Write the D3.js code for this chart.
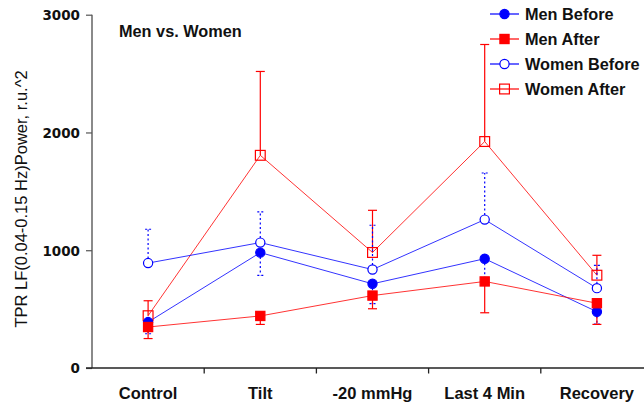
<!DOCTYPE html>
<html>
<head>
<meta charset="utf-8">
<script src="https://cdn.jsdelivr.net/npm/d3@7"></script>
<style>
  html, body { margin: 0; padding: 0; background: #fff; }
  svg { display: block; }
</style>
</head>
<body>
<svg id="chart" width="644" height="406"></svg>
<script>
// Phases of the protocol
const categories = ["Control", "Tilt", "-20 mmHg", "Last 4 Min", "Recovery"];

// Group means
const menBefore   = [390, 980, 715, 928, 478];
const menAfter    = [348, 442, 615, 735, 550];
const womenBefore = [891, 1065, 836, 1260, 678];
const womenAfter  = [444, 1806, 981, 1923, 788];

// Standard errors (men drawn downward, women upward)
const menBeforeErr   = [99, 193, 169, 170, 105];
const menAfterErr    = [98, 72, 112, 266, 180];
const womenBeforeErr = [287, 260, 376, 396, 194];
const womenAfterErr  = [127, 712, 358, 824, 169];

const yTicks = [0, 1000, 2000, 3000];

const series = [
  { name: "Women After",  values: womenAfter,  err: womenAfterErr,  dir: 1,  color: "#ff0000", shape: "square", filled: false, dash: null },
  { name: "Women Before", values: womenBefore, err: womenBeforeErr, dir: 1,  color: "#0000ff", shape: "circle", filled: false, dash: "2,2.5" },
  { name: "Men Before",   values: menBefore,   err: menBeforeErr,   dir: -1, color: "#0000ff", shape: "circle", filled: true,  dash: "2,2.5" },
  { name: "Men After",    values: menAfter,    err: menAfterErr,    dir: -1, color: "#ff0000", shape: "square", filled: true,  dash: null }
];
const legendOrder = ["Men Before", "Men After", "Women Before", "Women After"];

const svg = d3.select("#chart");
const plotLeft = 92, plotBottom = 368, plotTop = 14.7;

const x = d3.scaleBand().domain(categories).range([plotLeft, plotLeft + 5 * 112.2]).paddingInner(0).paddingOuter(0);
const y = d3.scaleLinear().domain([0, 3000]).range([plotBottom, plotTop]);
const cx = c => x(c) + x.bandwidth() / 2;

// Y axis
const yAxis = svg.append("g")
  .attr("transform", `translate(${plotLeft},0)`)
  .call(d3.axisLeft(y).tickValues(yTicks).tickSize(6).tickPadding(6).tickFormat(d3.format("d")));
yAxis.select(".domain").attr("stroke", "#8a8a8a").attr("stroke-width", 2).attr("d", `M0,${plotBottom}V${plotTop}`);
yAxis.selectAll(".tick line").attr("stroke", "#555").attr("stroke-width", 1.2);
yAxis.selectAll(".tick text")
  .attr("font-family", "DejaVu Sans, sans-serif").attr("font-weight", "bold").attr("font-size", 13.5)
  .attr("fill", "#111").attr("dy", "0.36em");

// X axis: category labels centred in bands, ticks at band boundaries
const xAxis = svg.append("g")
  .attr("transform", `translate(0,${plotBottom})`)
  .call(d3.axisBottom(x).tickSize(0).tickPadding(0));
xAxis.select(".domain").attr("stroke", "#222").attr("stroke-width", 1.5).attr("d", `M${plotLeft - 6},0H644`);
xAxis.selectAll(".tick text")
  .attr("font-family", "Liberation Sans, Arial, sans-serif").attr("font-weight", "bold").attr("font-size", 16.5)
  .attr("fill", "#111").attr("y", 31).attr("dy", 0);
xAxis.selectAll(".boundary").data(categories.slice(1)).enter().append("line")
  .attr("class", "boundary")
  .attr("x1", d => x(d)).attr("x2", d => x(d))
  .attr("y1", 0).attr("y2", 5.5)
  .attr("stroke", "#222").attr("stroke-width", 1.3);

// Y axis title
svg.append("text")
  .attr("transform", "translate(27,199) rotate(-90)")
  .attr("text-anchor", "middle")
  .attr("font-family", "Liberation Sans, Arial, sans-serif").attr("font-size", 16.5)
  .attr("fill", "#111")
  .text("TPR LF(0.04-0.15 Hz)Power, r.u.^2");

// Panel title
svg.append("text")
  .attr("x", 119).attr("y", 36.7)
  .attr("font-family", "Liberation Sans, Arial, sans-serif").attr("font-weight", "bold").attr("font-size", 16.3)
  .attr("fill", "#111")
  .text("Men vs. Women");

const plot = svg.append("g");

// Error bars
series.forEach(s => {
  const g = plot.append("g");
  categories.forEach((c, i) => {
    const xc = cx(c);
    const y0 = y(s.values[i]);
    const y1 = y(s.values[i] + s.dir * s.err[i]);
    const capW = s.dash ? 3 : 4.5;
    g.append("line").attr("x1", xc).attr("x2", xc).attr("y1", y0).attr("y2", y1)
      .attr("stroke", s.color).attr("stroke-width", 1.2).attr("stroke-dasharray", s.dash);
    g.append("line").attr("x1", xc - capW).attr("x2", xc + capW).attr("y1", y1).attr("y2", y1)
      .attr("stroke", s.color).attr("stroke-width", 1.2).attr("stroke-dasharray", s.dash ? "2,2" : null);
  });
});

// Connecting lines
const line = d3.line().x((d, i) => cx(categories[i])).y(d => y(d));
series.forEach(s => {
  plot.append("path").datum(s.values)
    .attr("d", line).attr("fill", "none")
    .attr("stroke", s.color).attr("stroke-width", 1).attr("stroke-opacity", 0.8);
});

// Markers
function drawMarker(g, shape, filled, color, px, py) {
  if (shape === "circle") {
    g.append("circle").attr("cx", px).attr("cy", py).attr("r", 4.6)
      .attr("fill", filled ? color : "#fff").attr("stroke", color).attr("stroke-width", 1.2);
  } else {
    const h = filled ? 4.6 : 4.9;
    g.append("rect").attr("x", px - h).attr("y", py - h).attr("width", 2 * h).attr("height", 2 * h)
      .attr("fill", filled ? color : "none").attr("stroke", color).attr("stroke-width", 1.2);
  }
}
series.forEach(s => {
  const g = plot.append("g");
  s.values.forEach((v, i) => drawMarker(g, s.shape, s.filled, s.color, cx(categories[i]), y(v)));
});

// Legend
const legend = svg.append("g");
legendOrder.forEach((name, k) => {
  const s = series.find(d => d.name === name);
  const ly = 14 + k * 25;
  legend.append("line").attr("x1", 490).attr("x2", 519).attr("y1", ly).attr("y2", ly)
    .attr("stroke", s.color).attr("stroke-width", 1.2);
  drawMarker(legend, s.shape, s.filled, s.color, 504.5, ly);
  legend.append("text").attr("x", 525).attr("y", ly + 5.6)
    .attr("font-family", "Liberation Sans, Arial, sans-serif").attr("font-weight", "bold").attr("font-size", 16.3)
    .attr("fill", "#111").text(name);
});
</script>
</body>
</html>
